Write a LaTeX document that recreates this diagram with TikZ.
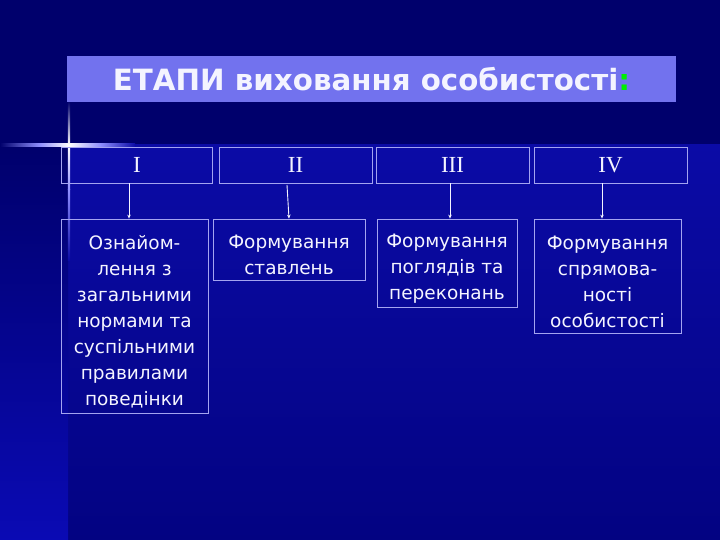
\documentclass[tikz,border=0pt]{standalone}
\usepackage{fontspec}
\setmainfont{DejaVu Sans}
\newfontfamily\romfont{Liberation Serif}
\usetikzlibrary{arrows.meta}
\definecolor{bgtop}{HTML}{00006C}
\definecolor{bglow1}{HTML}{0B0BA6}
\definecolor{bglow2}{HTML}{030382}
\definecolor{stripbot}{HTML}{0A0AB4}
\definecolor{titlefill}{HTML}{7272EE}
\definecolor{boxline}{HTML}{A4A4F0}
\definecolor{txt}{HTML}{F4F4FF}
\definecolor{colon}{HTML}{00F000}
\definecolor{flare}{HTML}{9090FF}
\newcommand\topstrut{\rule{0pt}{25pt}}
\tikzset{
  rowbox/.style={draw=boxline, line width=0.8pt, text=txt, inner sep=0pt,
    font=\romfont\fontsize{23}{26}\selectfont},
  stagebox/.style={draw=boxline, line width=0.8pt, text=txt, inner sep=0pt, align=center,
    font=\fontsize{18.5}{26}\selectfont},
  arr/.style={draw=txt, line width=0.9pt, -{Stealth[length=4pt,width=3.5pt]}}
}
\begin{document}
\begin{tikzpicture}[x=1pt,y=-1pt]
\useasboundingbox (0,0) rectangle (720,540);
% background
\fill[bgtop] (0,0) rectangle (720,540);
\shade[top color=bglow1, bottom color=bglow2] (68,145) rectangle (720,540);
\shade[top color=bgtop, bottom color=stripbot] (0,145) rectangle (68,540);
% flare
\shade[left color=bgtop, right color=flare] (0,143.8) rectangle (40,146.2);
\shade[left color=flare, right color=white] (40,143.8) rectangle (69,146.2);
\shade[left color=white, right color=flare] (69,143.8) rectangle (100,146.2);
\shade[left color=flare, right color=bglow1] (100,143.8) rectangle (135,146.2);
\shade[top color=bgtop, bottom color=white] (67.8,101) rectangle (70.2,145);
\shade[top color=white, bottom color=flare] (67.8,145) rectangle (70.2,190);
\shade[top color=flare, bottom color=bglow1] (67.8,190) rectangle (70.2,260);
% title
\node[fill=titlefill, minimum width=609pt, minimum height=46pt, inner sep=0pt,
  text=txt, font=\bfseries\fontsize{29.3}{32}\selectfont] (title) at (371.5,79)
  {ЕТАПИ виховання особистості\textcolor{colon}{:}};
% stage row
\node[rowbox, minimum width=151pt, minimum height=36pt] (r1) at (137,165) {I};
\node[rowbox, minimum width=153pt, minimum height=36pt] (r2) at (295.5,165) {II};
\node[rowbox, minimum width=153pt, minimum height=36pt] (r3) at (452.5,165) {III};
\node[rowbox, minimum width=153pt, minimum height=36pt] (r4) at (610.5,165) {IV};
% content boxes
\node[stagebox, minimum width=147pt, minimum height=194pt] (b1) at (134.5,316)
  {\topstrut Ознайом-\\лення з\\загальними\\нормами та\\суспільними\\правилами\\поведінки};
\node[stagebox, minimum width=152pt, minimum height=61pt] (b2) at (289,249.5)
  {\topstrut Формування\\ставлень};
\node[stagebox, minimum width=140pt, minimum height=88pt] (b3) at (447,263)
  {\topstrut Формування\\поглядів та\\переконань};
\node[stagebox, minimum width=147pt, minimum height=114pt] (b4) at (607.5,276)
  {\topstrut Формування\\спрямова-\\ності\\особистості};
% arrows
\coordinate (x1) at (129,0);
\coordinate (s2) at (287,185);
\coordinate (e2) at (289,0);
\coordinate (x3) at (450,0);
\coordinate (x4) at (602,0);
\draw[arr] (r1.south -| x1) -- (b1.north -| x1);
\draw[arr] (s2) -- (b2.north -| e2);
\draw[arr] (r3.south -| x3) -- (b3.north -| x3);
\draw[arr] (r4.south -| x4) -- (b4.north -| x4);
\end{tikzpicture}
\end{document}
